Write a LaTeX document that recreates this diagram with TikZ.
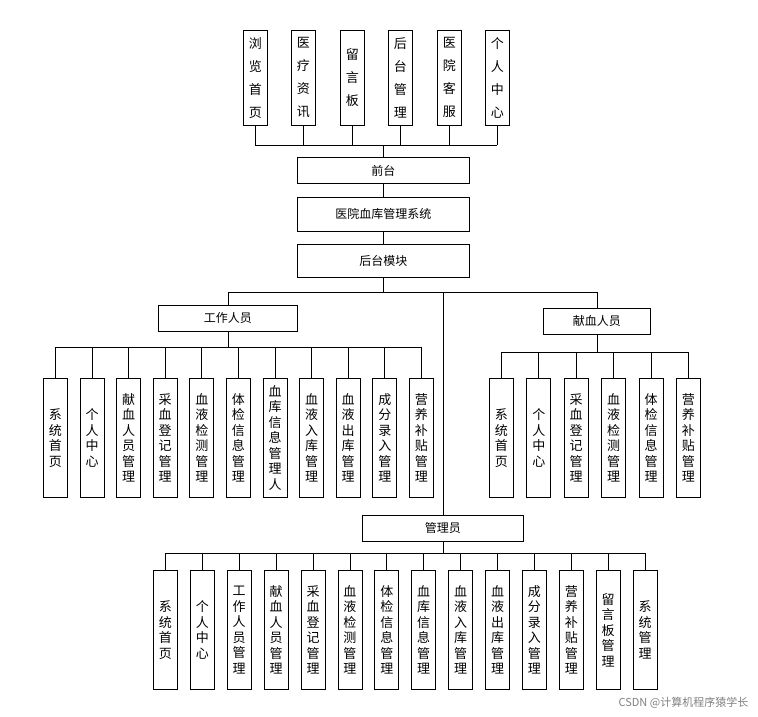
\documentclass[tikz,border=0pt]{standalone}
\usepackage{fontspec}
\setmainfont{Noto Sans CJK SC}
\begin{document}
\begin{tikzpicture}[x=1pt,y=-1pt,line width=0.8pt,
  hbox/.style={draw,inner sep=0,minimum height=26pt,font=\fontsize{12}{14}\selectfont,anchor=north west},
  vbox/.style={draw,inner sep=0,minimum width=24pt,anchor=north west,align=center,font=\fontsize{13}{23}\selectfont}]
\useasboundingbox (0,0) rectangle (758,716);
% top
\foreach \x/\t/\n in {243/浏\\览\\首\\页/t1,291/医\\疗\\资\\讯/t2,340/留\\言\\板/t3,388/后\\台\\管\\理/t4,437/医\\院\\客\\服/t5,485/个\\人\\中\\心/t6}
  \node[vbox,minimum height=95pt] (\n) at (\x,30) {\t};
\node[hbox,minimum width=172pt] (qt) at (297,157) {前台};
\node[hbox,minimum width=172pt,minimum height=34pt] (sys) at (297,197) {医院血库管理系统};
\node[hbox,minimum width=172pt,minimum height=33pt] (ht) at (297,244) {后台模块};
\coordinate (tb) at (0,145);
\foreach \n in {t1,t2,t3,t4,t5,t6} \draw (\n.south) -- (\n.south |- tb);
\draw (t1.south |- tb) -- (t6.south |- tb);
\draw (qt.north) -- (qt.north |- tb);
\draw (qt.south) -- (sys.north);
\draw (sys.south) -- (ht.south |- sys.south) -- (ht.north);
% level 2
\node[hbox,minimum width=139pt] (gz) at (158,305) {工作人员};
\node[hbox,minimum width=107pt] (xx) at (543,308) {献血人员};
\node[hbox,minimum width=161pt] (gl) at (362,515) {管理员};
\coordinate (hb) at (0,292);
\draw (ht.south) -- (ht.south |- hb);
\draw (gz.north |- hb) -- (xx.north |- hb);
\draw (gz.north |- hb) -- (gz.north);
\draw (xx.north |- hb) -- (xx.north);
\draw (443,292) coordinate (gc) -- (gc |- gl.north);
% workers
\coordinate (wb) at (0,347);
\draw (gz.south) -- (gz.south |- wb);
\foreach \i/\t in {0/系\\统\\首\\页,1/个\\人\\中\\心,2/献\\血\\人\\员\\管\\理,3/采\\血\\登\\记\\管\\理,4/血\\液\\检\\测\\管\\理,5/体\\检\\信\\息\\管\\理,6/血\\库\\信\\息\\管\\理\\人,7/血\\液\\入\\库\\管\\理,8/血\\液\\出\\库\\管\\理,9/成\\分\\录\\入\\管\\理,10/营\\养\\补\\贴\\管\\理}{
  \node[vbox,minimum height=119pt,font=\fontsize{13}{15.5}\selectfont] (w\i) at ({43+36.6*\i},378) {\t};
  \draw (w\i.north) -- (w\i.north |- wb);}
\draw (w0.north |- wb) -- (w10.north |- wb);
% donors
\coordinate (db) at (0,352);
\draw (xx.south) -- (xx.south |- db);
\foreach \i/\t in {0/系\\统\\首\\页,1/个\\人\\中\\心,2/采\\血\\登\\记\\管\\理,3/血\\液\\检\\测\\管\\理,4/体\\检\\信\\息\\管\\理,5/营\\养\\补\\贴\\管\\理}{
  \node[vbox,minimum height=119pt,font=\fontsize{13}{15.5}\selectfont] (d\i) at ({489+37.4*\i},378) {\t};
  \draw (d\i.north) -- (d\i.north |- db);}
\draw (d0.north |- db) -- (d5.north |- db);
% admin
\coordinate (ab) at (0,553);
\draw (gl.south) -- (gl.south |- ab);
\foreach \i/\t in {0/系\\统\\首\\页,1/个\\人\\中\\心,2/工\\作\\人\\员\\管\\理,3/献\\血\\人\\员\\管\\理,4/采\\血\\登\\记\\管\\理,5/血\\液\\检\\测\\管\\理,6/体\\检\\信\\息\\管\\理,7/血\\库\\信\\息\\管\\理,8/血\\液\\入\\库\\管\\理,9/血\\液\\出\\库\\管\\理,10/成\\分\\录\\入\\管\\理,11/营\\养\\补\\贴\\管\\理,12/留\\言\\板\\管\\理,13/系\\统\\管\\理}{
  \node[vbox,minimum height=119pt,font=\fontsize{13}{15.5}\selectfont] (a\i) at ({153+36.9*\i},570) {\t};
  \draw (a\i.north) -- (a\i.north |- ab);}
\draw (a0.north |- ab) -- (a13.north |- ab);
\node[anchor=east,text=gray,font=\fontsize{11}{13}\selectfont] (wm) at (752,703) {CSDN @计算机程序猿学长};
\end{tikzpicture}
\end{document}
